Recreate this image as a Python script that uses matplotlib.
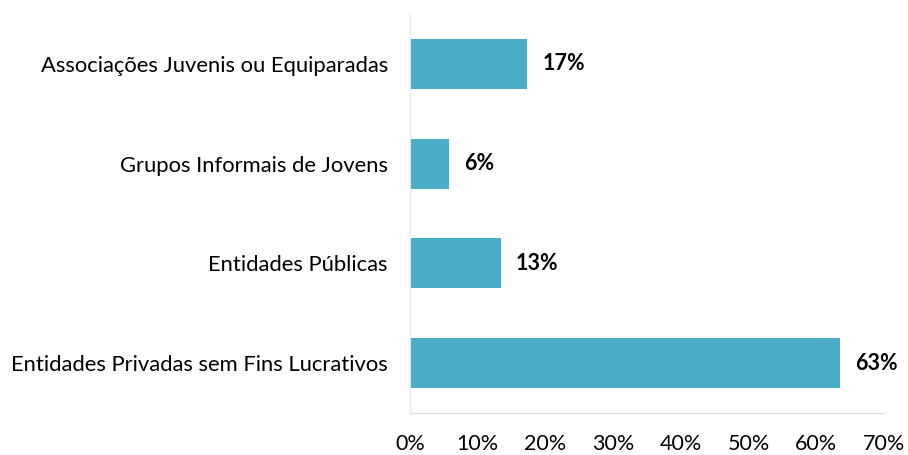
import matplotlib.pyplot as plt
from matplotlib.ticker import PercentFormatter

# categorias de baixo para cima
categorias = ['Entidades Privadas sem Fins Lucrativos', 'Entidades Públicas',
              'Grupos Informais de Jovens', 'Associações Juvenis ou Equiparadas']
valores = [63.5, 13.4, 5.8, 17.3]
rotulos = ['63%', '13%', '6%', '17%']

plt.rcParams['font.family'] = ['Lato', 'DejaVu Sans']

fig = plt.figure(figsize=(9.08, 4.55), dpi=100)
ax = fig.add_axes([410 / 908, 1 - 413 / 455, 474 / 908, 399 / 455])

ax.barh(range(len(categorias)), valores, height=0.5, color='#4BACC6')
# rotulos de valor ao lado das barras
for i, (v, r) in enumerate(zip(valores, rotulos)):
    ax.annotate(r, (v, i), xytext=(15, 0), textcoords='offset pixels',
                va='center', ha='left', fontsize=15.5, fontweight='bold', color='black')

ax.set_xlim(0, 70)
ax.set_ylim(-0.5, 3.5)
ax.set_yticks(range(len(categorias)))
ax.set_yticklabels(categorias, fontsize=15.8)
ax.set_xticks(range(0, 71, 10))
ax.xaxis.set_major_formatter(PercentFormatter(decimals=0))
ax.tick_params(axis='x', labelsize=15.5, length=0, pad=15)
ax.tick_params(axis='y', length=0, pad=16)

for s in ['top', 'right']:
    ax.spines[s].set_visible(False)
ax.spines['left'].set_color('#dfe8f2')
ax.spines['bottom'].set_color('#d9d9d9')

fig.savefig('out.png', dpi=100)
